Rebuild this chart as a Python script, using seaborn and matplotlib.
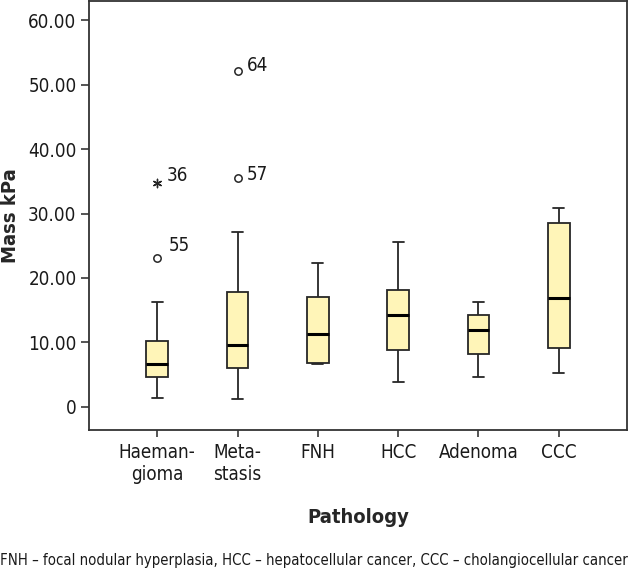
import numpy as np
import pandas as pd
import matplotlib
matplotlib.use("Agg")
import matplotlib.pyplot as plt
from matplotlib import font_manager as fm
import seaborn as sns

# Categories and five-number summaries (min whisker, Q1, median, Q3, max whisker)
categories = ["Haeman-\ngioma", "Meta-\nstasis", "FNH", "HCC", "Adenoma", "CCC"]
whisker_low = [1.4, 1.2, 6.6, 3.9, 4.6, 5.3]
q1 = [4.7, 6.1, 6.8, 8.8, 8.2, 9.2]
median = [6.7, 9.6, 11.3, 14.3, 12.0, 16.9]
q3 = [10.2, 17.8, 17.0, 18.2, 14.2, 28.5]
whisker_high = [16.2, 27.2, 22.4, 25.6, 16.2, 30.9]

# Outliers (circles) and extreme values (asterisk), with case labels
outlier_cat = ["Haeman-\ngioma", "Meta-\nstasis", "Meta-\nstasis"]
outlier_val = [23.1, 35.5, 52.1]
outlier_lab = ["55", "57", "64"]
extreme_cat = ["Haeman-\ngioma"]
extreme_val = [34.8]
extreme_lab = ["36"]

ytick_vals = [0, 10, 20, 30, 40, 50, 60]
ytick_labels = ["0", "10.00", "20.00", "30.00", "40.00", "50.00", "60.00"]
caption = ("FNH \u2013 focal nodular hyperplasia, HCC \u2013 hepatocellular cancer, "
           "CCC \u2013 cholangiocellular cancer")

rows = []
for i, c in enumerate(categories):
    for v in (whisker_low[i], q1[i], median[i], q3[i], whisker_high[i]):
        rows.append({"Pathology": c, "Mass kPa": v})
df = pd.DataFrame(rows)

sns.set_style("white")

# pick the most condensed installed sans face
def stretch_num(s):
    if isinstance(s, (int, float)):
        return s
    return fm.stretch_dict.get(str(s).lower(), 500)

best = None
for f in fm.fontManager.ttflist:
    n = stretch_num(f.stretch)
    name = f.name.lower()
    if "mono" in name or "serif" in name and "sans" not in name:
        continue
    if n < 500 and (best is None or n < best[0]):
        best = (n, f)
if best is not None:
    plt.rcParams["font.family"] = [best[1].name, "DejaVu Sans"]
    plt.rcParams["font.stretch"] = best[1].stretch
else:
    plt.rcParams["font.family"] = ["Roboto", "DejaVu Sans"]

fig = plt.figure(figsize=(6.28, 5.74), dpi=100)
ax = fig.add_axes([89 / 628, 1 - 430 / 574, (627 - 89) / 628, (430 - 1) / 574])

edge = "#262626"
sns.boxplot(data=df, x="Pathology", y="Mass kPa", order=categories, ax=ax,
            whis=np.inf, width=0.27, color="#FFF5B8", linecolor=edge,
            linewidth=1.3, saturation=1,
            medianprops=dict(color="black", linewidth=2.2))

pos = {c: i for i, c in enumerate(categories)}
ox = [pos[c] for c in outlier_cat]
ax.scatter(ox, outlier_val, s=28, facecolors="white", edgecolors=edge,
           linewidths=1.1, zorder=5)
ex = [pos[c] for c in extreme_cat]
ax.scatter(ex, extreme_val, s=36, marker=(6, 2, 0), color=edge,
           linewidths=1.0, zorder=5)
label_offsets = {"55": (8, 5), "57": (6.5, -1), "64": (6.5, 0), "36": (7, 1.5)}
for x, y, t in zip(ox + ex, outlier_val + extreme_val, outlier_lab + extreme_lab):
    ax.annotate(t, (x, y), xytext=label_offsets.get(t, (6.5, 0)),
                textcoords="offset points", fontsize=13.5, color="#1a1a1a",
                va="baseline", ha="left")

ax.set_xlim(-0.85, 5.85)
ax.set_ylim(-3.6, 63)
ax.set_yticks(ytick_vals)
ax.set_yticklabels(ytick_labels)
ax.tick_params(axis="both", which="both", direction="out",
               width=1.1, color=edge, labelsize=13.5, labelcolor="#1a1a1a",
               left=True, bottom=True)
ax.tick_params(axis="y", length=6, pad=3)
ax.tick_params(axis="x", length=5, pad=4)
for s in ax.spines.values():
    s.set_visible(True)
    s.set_color("#333333")
    s.set_linewidth(1.3)

ax.set_xlabel("Pathology", fontsize=14.5, fontweight="bold", va="baseline")
ax.set_ylabel("Mass kPa", fontsize=14.5, fontweight="bold", va="bottom")
ax.xaxis.set_label_coords(0.5, (430 - 523) / 429)
ax.yaxis.set_label_coords((20 - 89) / 538, 0.5)

cap = fig.text(0.5, 1 - 565 / 574, caption, ha="center", va="baseline",
               fontsize=13.5, color="#1a1a1a")
fig.canvas.draw()
w = cap.get_window_extent().width
if w > 624:
    cap.set_fontsize(13.5 * 624 / w)

fig.savefig("out.png", dpi=100)
